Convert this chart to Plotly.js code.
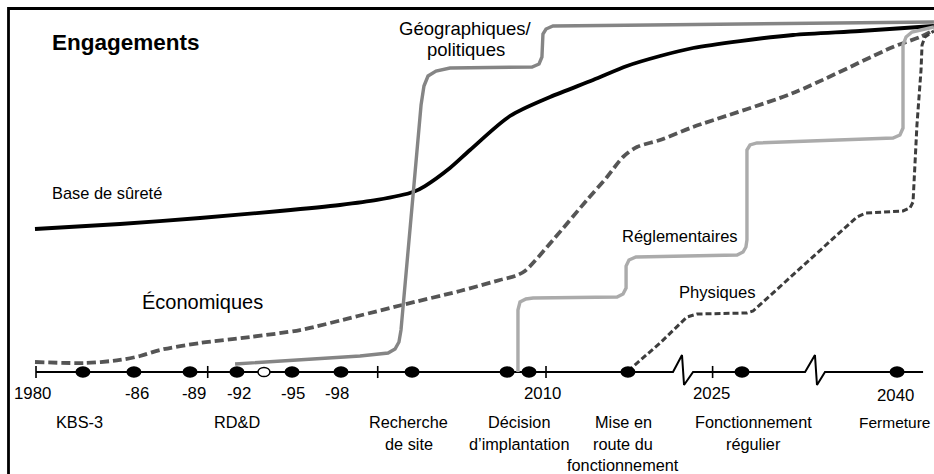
<!DOCTYPE html>
<html><head><meta charset="utf-8">
<script src="https://cdn.plot.ly/plotly-3.0.1.min.js"></script>
<style>html,body{margin:0;padding:0;background:#fff;overflow:hidden}#chart{width:934px;height:474px}</style>
</head><body><div id="chart"></div>
<script>
// x: timeline position in years (linear scale; the axis is broken/compressed after ~2017)
// y: level of commitment (0 = timeline, 100 = full commitment)

const baseX = [1979.94,1984.94,1989.65,1994.35,1997.88,2000.06,2002.18,2002.88,2004.35,2005.53,2007.88,2010.24,2012.77,2014.76,2016.71,2018.65,2021.41,2024.53,2028.47,2032.82];
const baseY = [41.45,42.90,44.64,46.67,48.41,49.86,52.17,53.91,59.13,64.35,74.20,79.71,84.64,88.70,91.59,93.91,95.94,97.68,98.84,100.29];

const geoX = [1991.71,1995.53,1999.06,2000.71,2001.12,2001.35,2001.47,2002.18,2002.65,2002.82,2003.06,2003.53,2004.35,2009.18,2009.59,2009.76,2009.82,2010.00,2010.41,2016.12,2032.82];
const geoY = [2.32,3.48,4.64,5.51,6.67,8.70,12.17,51.30,77.39,82.90,85.80,87.25,88.12,88.41,89.28,91.30,97.97,99.42,100.29,100.58,101.45];

const ecoX = [1979.94,1982.88,1984.94,1986.12,1987.29,1989.65,1992.59,1995.53,1998.94,2001.53,2004.94,2007.29,2008.18,2008.76,2010.41,2012.41,2013.59,2014.53,2015.35,2016.71,2018.65,2024.53,2030.41,2032.00,2032.82];
const ecoY = [2.90,2.61,3.48,4.64,6.38,8.41,10.14,12.17,16.23,19.42,23.48,26.67,27.83,29.28,38.26,49.86,56.52,62.32,65.22,67.25,71.01,80.87,94.20,97.10,99.13];

const regX = [2008.35,2008.35,2008.47,2008.82,2009.24,2014.18,2014.53,2014.71,2014.71,2014.88,2015.29,2021.24,2021.59,2021.76,2021.82,2021.82,2022.00,2022.41,2030.41,2030.82,2031.00,2031.00,2031.18,2031.53,2032.82];
const regY = [0.00,17.97,20.29,21.16,21.45,21.74,22.61,24.35,30.72,32.46,33.33,33.91,34.78,36.23,38.26,64.35,65.80,66.38,67.83,68.70,70.72,94.78,97.10,98.55,100.00];

const physX = [2014.82,2016.71,2018.29,2018.88,2021.82,2022.18,2028.29,2028.82,2031.00,2031.41,2031.59,2031.82,2032.06,2032.12,2032.29,2032.82];
const physY = [0.29,8.41,15.94,16.81,17.10,17.68,44.93,46.09,46.67,47.54,49.28,71.59,87.54,94.78,97.10,98.84];

// timeline axis (with two break marks) and its tick marks
const axisX = [1980,2017.47,2018.00,2018.12,2018.65,2025.24,2025.82,2025.94,2026.41,2032.18];
const axisY = [0,0,4.93,-3.77,0,0,4.93,-3.77,0,0];
const tickPos = [1980,1990.1,2000.1,2010,2019.8];

// milestones (dots) on the timeline
const dotX = [1982.76,1985.76,1989.06,1991.82,1995.06,1997.94,2002.12,2007.71,2009.00,2014.82,2021.53,2030.65];
const openDotX = [1993.41];

// year labels
const yearLabels = ["1980","-86","-89","-92","-95","-98","2010","2025","2040"];
const yearLabelX = [1979.82,1985.94,1989.29,1991.94,1995.12,1997.71,2009.82,2019.76,2030.53];

// phase labels (one entry per phase, lines separated by \n)
const phaseLabels = ["KBS-3","RD&D","Recherche\nde site","Décision\nd’implantation","Mise en\nroute du\nfonctionnement","Fonctionnement\nrégulier","Fermeture"];
const phaseLabelX = [1982.53,1991.82,2001.94,2008.41,2014.53,2022.18,2032.76];

// series labels
const seriesLabels = ["Base de sûreté","Économiques","Géographiques/\npolitiques","Réglementaires","Physiques"];
const chartTitle = "Engagements";

// ---------- layout helpers ----------
const PXY = 3.45;               // px per level unit
const lvl = py => (372 - py) / PXY;
const FONT = "'Liberation Sans',Arial,Helvetica,sans-serif";

const traces = [];
function line(x, y, color, width, dash, shape) {
  traces.push({type:'scatter', mode:'lines', x:x, y:y, hoverinfo:'skip', showlegend:false,
    line:{color:color, width:width, dash:dash||'solid', shape:shape||'linear', smoothing:0.8}});
}
line(axisX, axisY, '#000', 2);
const tX = [], tY = [];
tickPos.forEach(t => { tX.push(t, t, null); tY.push(1.75, -1.75, null); });
line(tX, tY, '#000', 1.6);
line(baseX, baseY, '#000', 3.8, 'solid', 'spline');
line(ecoX, ecoY, '#555555', 3.8, '9px,4px', 'spline');
line(geoX, geoY, '#858585', 3.4);
line(regX, regY, '#ababab', 3.4);
line(physX, physY, '#3d3d3d', 3, '6px,3px');

const shapes = [];
shapes.push({type:'rect', xref:'paper', yref:'paper', x0:8.5/934, x1:1.1, y0:-0.1, y1:1-8.5/474,
  line:{color:'#000', width:2.8}, fillcolor:'rgba(0,0,0,0)'});
dotX.forEach(x => shapes.push({type:'circle', xref:'x', yref:'y', xsizemode:'pixel', ysizemode:'pixel',
  xanchor:x, yanchor:0, x0:-7.5, x1:7.5, y0:-5.8, y1:5.8, fillcolor:'#000', line:{width:0}}));
openDotX.forEach(x => shapes.push({type:'circle', xref:'x', yref:'y', xsizemode:'pixel', ysizemode:'pixel',
  xanchor:x, yanchor:0, x0:-6, x1:6, y0:-4.6, y1:4.6, fillcolor:'#fff', line:{color:'#000', width:1.5}}));

const ann = [];
function txt(text, x, py, size, xanchor, bold) {
  ann.push({text: bold ? '<b>'+text+'</b>' : text, x:x, y:lvl(py), xref:'x', yref:'y', showarrow:false,
    xanchor:xanchor||'center', yanchor:'middle', font:{family:FONT, size:size, color:'#000'}});
}
txt(chartTitle, 1980.82, 42, 22.5, 'left', true);
yearLabels.forEach((t,i) => txt(t, yearLabelX[i], i===8 ? 395 : 393, 16.8));
const rowPy = [422, 444, 465];
phaseLabels.forEach((t,i) => t.split('\n').forEach((ln,j) =>
  txt(ln, phaseLabelX[i], rowPy[j], i===6 ? 15.5 : 16.3, i===6 ? 'right' : 'center')));
// series labels
txt(seriesLabels[0], 1980.82, 193, 16.4, 'left');
txt(seriesLabels[1], 1986.12, 302, 20, 'left');
seriesLabels[2].split('\n').forEach((ln,j) => txt(ln, 2005.29, [28,49][j], 18.5, 'center'));
txt(seriesLabels[3], 2014.35, 236, 16.5, 'left');
txt(seriesLabels[4], 2017.71, 292, 16.6, 'left');

const layout = {
  width:934, height:474, autosize:false,
  margin:{l:0, r:0, t:0, b:0, pad:0},
  paper_bgcolor:'#fff', plot_bgcolor:'#fff',
  xaxis:{range:[1977.882, 1977.882 + 934/17], visible:false, fixedrange:true},
  yaxis:{range:[lvl(474), lvl(0)], visible:false, fixedrange:true},
  shapes:shapes, annotations:ann, showlegend:false
};
Plotly.newPlot('chart', traces, layout, {staticPlot:true, displayModeBar:false});
</script>
</body></html>
